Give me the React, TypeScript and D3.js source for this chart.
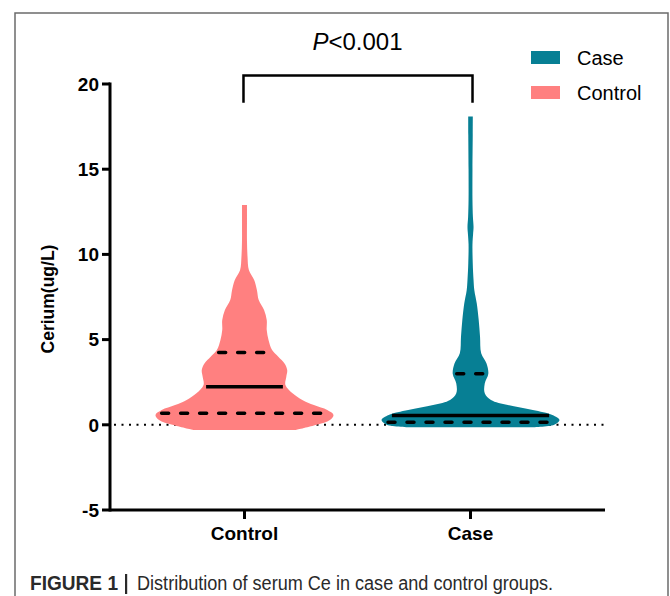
import * as d3 from "d3";

const categories = ["Control", "Case"];
const yTicks = [-5, 0, 5, 10, 15, 20];

// violin outline: value levels and relative density (1 = widest)
const controlLevels = [-0.3, 0.0, 0.28, 0.58, 0.87, 1.16, 1.46, 1.85, 2.34, 2.82, 3.21, 3.6, 4.0, 4.39, 4.98, 5.56, 6.15, 6.73, 7.32, 7.9, 8.49, 9.07, 9.87, 10.8, 11.8, 12.9];
const controlDensity = [0.58, 0.81, 0.96, 1.0, 0.93, 0.78, 0.65, 0.54, 0.46, 0.47, 0.48, 0.45, 0.38, 0.31, 0.27, 0.25, 0.25, 0.22, 0.16, 0.14, 0.11, 0.05, 0.034, 0.028, 0.028, 0.028];
const caseLevels = [-0.15, 0.0, 0.28, 0.58, 0.87, 1.16, 1.46, 1.85, 2.43, 3.0, 3.6, 4.2, 5.17, 6.15, 7.13, 7.9, 8.5, 9.5, 10.6, 11.2, 11.6, 12.2, 13.2, 15, 17, 18.1];
const caseDensity = [0.67, 0.94, 1.0, 0.92, 0.7, 0.42, 0.23, 0.16, 0.16, 0.2, 0.18, 0.12, 0.107, 0.092, 0.07, 0.043, 0.034, 0.025, 0.022, 0.029, 0.034, 0.027, 0.022, 0.022, 0.025, 0.026];

// Q1, median, Q3
const controlQuartiles = [0.68, 2.24, 4.25];
const caseQuartiles = [0.15, 0.55, 3.0];

const seriesColors = { Control: "#FF8080", Case: "#077F94" };
const legendOrder = ["Case", "Control"];

const WIDTH = 670;
const HEIGHT = 596;
const PLOT = { left: 110, right: 605, top: 84, bottom: 510 };

const y = d3.scaleLinear().domain([-5, 20]).range([PLOT.bottom, PLOT.top]);
const x = d3.scalePoint<string>().domain(categories).range([PLOT.left, PLOT.right]).padding(0.595);
const halfWidth = d3.scaleLinear().domain([0, 1]).range([0, 89]);

const violins = [
  { name: "Control", levels: controlLevels, density: controlDensity, quartiles: controlQuartiles },
  { name: "Case", levels: caseLevels, density: caseDensity, quartiles: caseQuartiles },
];

function densityAt(levels: number[], density: number[], v: number) {
  const i = d3.bisectLeft(levels, v);
  if (i <= 0) return density[0];
  if (i >= levels.length) return density[density.length - 1];
  const t = (v - levels[i - 1]) / (levels[i] - levels[i - 1]);
  return density[i - 1] + t * (density[i] - density[i - 1]);
}

export default function App() {
  const font = "Liberation Sans, Arial, Helvetica, sans-serif";

  return (
    <svg width={WIDTH} height={HEIGHT} style={{ position: "absolute", left: 0, top: 0, background: "#fff" }} fontFamily={font}>
      {/* frame */}
      <path d={`M15,${HEIGHT} V13 H668 V${HEIGHT}`} fill="none" stroke="#6b6b6b" strokeWidth={1.5} />

      {/* zero reference line */}
      <line x1={PLOT.left + 4} x2={PLOT.right} y1={y(0)} y2={y(0)} stroke="#000" strokeWidth={2} strokeDasharray="2 5.5" />

      {violins.map((v) => {
        const cx = x(v.name) as number;
        const pts = v.levels.map((lvl, i) => ({ lvl, d: v.density[i] }));
        const area = d3
          .area<{ lvl: number; d: number }>()
          .y((p) => y(p.lvl))
          .x0((p) => cx - halfWidth(p.d))
          .x1((p) => cx + halfWidth(p.d))
          .curve(d3.curveCatmullRom);
        return (
          <g key={v.name}>
            <path d={area(pts) || ""} fill={seriesColors[v.name as "Control" | "Case"]} />
            {v.quartiles.map((q, i) => {
              const w = halfWidth(densityAt(v.levels, v.density, q)) - 4;
              return (
                <line
                  key={i}
                  x1={cx - w}
                  x2={cx + w}
                  y1={y(q)}
                  y2={y(q)}
                  stroke="#000"
                  strokeWidth={3.5}
                  strokeLinecap={i === 1 ? "butt" : "round"}
                  strokeDasharray={i === 1 ? undefined : "7 12"}
                />
              );
            })}
          </g>
        );
      })}

      {/* y axis */}
      <line x1={PLOT.left} x2={PLOT.left} y1={PLOT.top - 1.5} y2={PLOT.bottom + 1.5} stroke="#000" strokeWidth={3} />
      {yTicks.map((t) => (
        <g key={t} transform={`translate(0,${y(t)})`}>
          <line x1={PLOT.left - 8} x2={PLOT.left} stroke="#000" strokeWidth={3} />
          <text x={PLOT.left - 11} dy="0.36em" textAnchor="end" fontSize={19} fontWeight="bold">
            {t}
          </text>
        </g>
      ))}
      <text transform={`translate(54,${(y(10) + y(5)) / 2 + 2}) rotate(-90)`} textAnchor="middle" fontSize={17.5} fontWeight="bold">
        Cerium(ug/L)
      </text>

      {/* x axis */}
      <line x1={PLOT.left} x2={PLOT.right} y1={PLOT.bottom} y2={PLOT.bottom} stroke="#000" strokeWidth={3} />
      {categories.map((c) => (
        <g key={c} transform={`translate(${x(c)},0)`}>
          <line y1={PLOT.bottom} y2={PLOT.bottom + 9} stroke="#000" strokeWidth={3} />
          <text y={PLOT.bottom + 30} textAnchor="middle" fontSize={19} fontWeight="bold">
            {c}
          </text>
        </g>
      ))}

      {/* significance bracket */}
      <path
        d={`M${(x("Control") as number) - 1},${y(18.9)} V${y(20.5)} H${(x("Case") as number) + 2} V${y(18.9)}`}
        fill="none"
        stroke="#000"
        strokeWidth={2.5}
      />
      <text x={((x("Control") as number) + (x("Case") as number)) / 2} y={50} textAnchor="middle" fontSize={24}>
        <tspan fontStyle="italic">P</tspan>&lt;0.001
      </text>

      {/* legend */}
      {legendOrder.map((name, i) => (
        <g key={name} transform={`translate(531,${51 + i * 35})`}>
          <rect width={29} height={13} fill={seriesColors[name as "Control" | "Case"]} />
          <text x={46} y={14} fontSize={20}>
            {name}
          </text>
        </g>
      ))}

      {/* caption */}
      <g fill="#2a2a2a" fontSize={20}>
        <text x={30} y={590} fontWeight="bold" textLength={88} lengthAdjust="spacingAndGlyphs">
          FIGURE 1
        </text>
        <rect x={125} y={574} width={2.2} height={20} />
        <text x={137} y={590} textLength={416} lengthAdjust="spacingAndGlyphs">
          Distribution of serum Ce in case and control groups.
        </text>
      </g>
    </svg>
  );
}
